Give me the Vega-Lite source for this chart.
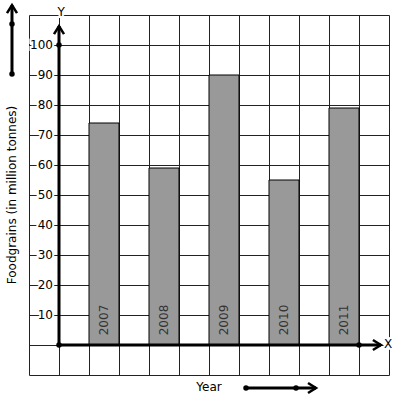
{
  "$schema": "https://vega.github.io/schema/vega-lite/v6.json",
  "width": 360,
  "height": 360,
  "padding": {"left": 29, "top": 15, "right": 8, "bottom": 26},
  "autosize": {"type": "none"},
  "background": "white",
  "config": {"view": {"stroke": null}, "font": "DejaVu Sans"},
  "datasets": {
    "bars": [
      {"year": "2007", "x0": 1, "x1": 2, "xc": 1.5, "value": 74},
      {"year": "2008", "x0": 3, "x1": 4, "xc": 3.5, "value": 59},
      {"year": "2009", "x0": 5, "x1": 6, "xc": 5.5, "value": 90},
      {"year": "2010", "x0": 7, "x1": 8, "xc": 7.5, "value": 55},
      {"year": "2011", "x0": 9, "x1": 10, "xc": 9.5, "value": 79}
    ],
    "ticks": [
      {"v": 10}, {"v": 20}, {"v": 30}, {"v": 40}, {"v": 50},
      {"v": 60}, {"v": 70}, {"v": 80}, {"v": 90}, {"v": 100}
    ],
    "lines": [
      {"xa": 0, "ya": 0, "xb": 10.73, "yb": 0},
      {"xa": 0, "ya": 0, "xb": 0, "yb": 106.3},
      {"xa": -1.567, "ya": 90.33, "xb": -1.567, "yb": 113.3},
      {"xa": 6.233, "ya": -14.33, "xb": 8.567, "yb": -14.33}
    ],
    "dots": [
      {"x": 0, "y": 0}, {"x": 0, "y": 100}, {"x": 10, "y": 0},
      {"x": -1.567, "y": 107}, {"x": -1.567, "y": 90.33},
      {"x": 6.233, "y": -14.33}, {"x": 7.9, "y": -14.33}
    ],
    "upHeads": [{"x": 0, "y": 106.3}, {"x": -1.567, "y": 113.3}],
    "rightHeads": [{"x": 10.73, "y": 0}, {"x": 8.567, "y": -14.33}],
    "labels": [
      {"x": 0.07, "y": 111, "t": "Y"},
      {"x": 10.97, "y": 0.5, "t": "X"},
      {"x": 5.0, "y": -14, "t": "Year"}
    ],
    "title": [{"x": -1.567, "y": 50, "t": "Foodgrains (in million tonnes)"}]
  },
  "layer": [
    {
      "data": {"name": "bars"},
      "mark": {"type": "rect", "fill": "#999999", "stroke": "#000000", "strokeWidth": 1},
      "encoding": {
        "x": {"field": "x0", "type": "quantitative",
          "scale": {"domain": [-1, 11], "nice": false, "zero": false},
          "axis": {"values": [-1,0,1,2,3,4,5,6,7,8,9,10,11], "tickCount": 30, "grid": true, "gridColor": "#222222", "gridOpacity": 1, "gridWidth": 1, "labels": false, "ticks": false, "domain": false, "title": null}},
        "x2": {"field": "x1"},
        "y": {"field": "value", "type": "quantitative",
          "scale": {"domain": [-10, 110], "nice": false, "zero": false},
          "axis": {"values": [-10,0,10,20,30,40,50,60,70,80,90,100,110], "tickCount": 30, "grid": true, "gridColor": "#222222", "gridOpacity": 1, "gridWidth": 1, "labels": false, "ticks": false, "domain": false, "title": null}},
        "y2": {"datum": 0}
      }
    },
    {
      "data": {"name": "bars"},
      "mark": {"type": "text", "angle": 270, "fontSize": 12, "fill": "#333333", "align": "center", "baseline": "middle"},
      "encoding": {
        "x": {"field": "xc", "type": "quantitative"},
        "y": {"datum": 8.33, "type": "quantitative"},
        "text": {"field": "year"}
      }
    },
    {
      "data": {"name": "ticks"},
      "mark": {"type": "text", "fontSize": 12, "align": "right", "baseline": "middle", "fill": "white", "stroke": "white", "strokeWidth": 4},
      "encoding": {
        "x": {"datum": -0.2, "type": "quantitative"},
        "y": {"field": "v", "type": "quantitative"},
        "text": {"field": "v"}
      }
    },
    {
      "data": {"name": "ticks"},
      "mark": {"type": "text", "fontSize": 12, "align": "right", "baseline": "middle", "fill": "#000000"},
      "encoding": {
        "x": {"datum": -0.2, "type": "quantitative"},
        "y": {"field": "v", "type": "quantitative"},
        "text": {"field": "v"}
      }
    },
    {
      "data": {"name": "labels"},
      "mark": {"type": "text", "fontSize": 12, "align": "center", "baseline": "middle", "fill": "white", "stroke": "white", "strokeWidth": 4},
      "encoding": {
        "x": {"field": "x", "type": "quantitative"},
        "y": {"field": "y", "type": "quantitative"},
        "text": {"field": "t"}
      }
    },
    {
      "data": {"name": "labels"},
      "mark": {"type": "text", "fontSize": 12, "align": "center", "baseline": "middle", "fill": "#000000"},
      "encoding": {
        "x": {"field": "x", "type": "quantitative"},
        "y": {"field": "y", "type": "quantitative"},
        "text": {"field": "t"}
      }
    },
    {
      "data": {"name": "title"},
      "mark": {"type": "text", "fontSize": 12, "angle": 270, "align": "center", "baseline": "middle", "fill": "#000000"},
      "encoding": {
        "x": {"field": "x", "type": "quantitative"},
        "y": {"field": "y", "type": "quantitative"},
        "text": {"field": "t"}
      }
    },
    {
      "data": {"name": "lines"},
      "mark": {"type": "rule", "stroke": "#000000", "strokeWidth": 3},
      "encoding": {
        "x": {"field": "xa", "type": "quantitative"},
        "x2": {"field": "xb"},
        "y": {"field": "ya", "type": "quantitative"},
        "y2": {"field": "yb"}
      }
    },
    {
      "data": {"name": "dots"},
      "mark": {"type": "point", "shape": "circle", "filled": true, "fill": "#000000", "opacity": 1, "size": 30},
      "encoding": {
        "x": {"field": "x", "type": "quantitative"},
        "y": {"field": "y", "type": "quantitative"}
      }
    },
    {
      "data": {"name": "upHeads"},
      "mark": {"type": "point", "shape": "M-1,1.6L0,0L1,1.6", "filled": false, "stroke": "#000000", "strokeWidth": 2.5, "opacity": 1, "size": 100},
      "encoding": {
        "x": {"field": "x", "type": "quantitative"},
        "y": {"field": "y", "type": "quantitative"}
      }
    },
    {
      "data": {"name": "rightHeads"},
      "mark": {"type": "point", "shape": "M-1.6,-1L0,0L-1.6,1", "filled": false, "stroke": "#000000", "strokeWidth": 2.5, "opacity": 1, "size": 100},
      "encoding": {
        "x": {"field": "x", "type": "quantitative"},
        "y": {"field": "y", "type": "quantitative"}
      }
    }
  ]
}
